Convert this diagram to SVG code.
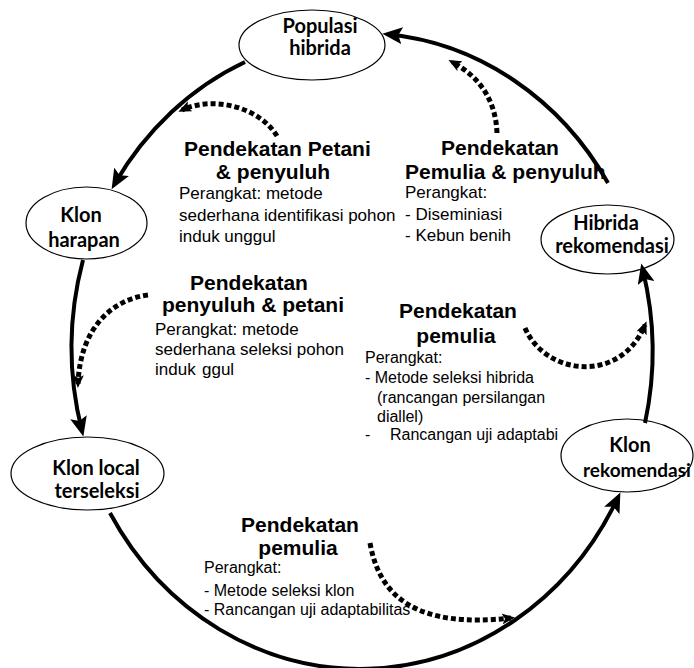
<svg xmlns="http://www.w3.org/2000/svg" width="694" height="668" viewBox="0 0 694 668">
<style>
.node ellipse{fill:#fff;stroke:#000;stroke-width:1.2}
.nt{font-family:Lato,"Open Sans","Liberation Sans",sans-serif;font-weight:bold;font-size:20px;fill:#000;text-anchor:middle}
.ttl{font-family:"Liberation Sans",Arial,sans-serif;font-weight:bold;font-size:21px;fill:#000}
.mid{text-anchor:middle}
.b17{font-family:"Liberation Sans",Arial,sans-serif;font-size:17px;fill:#000}
.b16{font-family:"Liberation Sans",Arial,sans-serif;font-size:16px;fill:#000}
.main{fill:none;stroke:#000;stroke-width:4;marker-end:url(#ah)}
.dot{fill:none;stroke:#000;stroke-width:5;stroke-dasharray:5 3;marker-end:url(#dh)}
</style>
<defs>
<marker id="ah" viewBox="0 0 20 17" markerWidth="20" markerHeight="17" refX="14" refY="8.5" orient="auto" markerUnits="userSpaceOnUse">
<path d="M0,0 L20,8.5 L0,17 L4,8.5 z" fill="#000"/>
</marker>
<marker id="dh" viewBox="0 0 13 11" markerWidth="13" markerHeight="11" refX="9" refY="5.5" orient="auto" markerUnits="userSpaceOnUse">
<path d="M0,0 L13,5.5 L0,11 L3,5.5 z" fill="#000"/>
</marker>
</defs>

<g id="populasi-hibrida" class="node">
<ellipse cx="312" cy="45" rx="73" ry="35"/>
<text class="nt" x="320" y="33">Populasi</text>
<text class="nt" x="320" y="55">hibrida</text>
</g>
<g id="klon-harapan" class="node">
<ellipse cx="86.5" cy="223" rx="60.5" ry="36"/>
<text class="nt" x="81" y="222">Klon</text>
<text class="nt" x="84" y="247">harapan</text>
</g>
<g id="hibrida-rekomendasi" class="node">
<ellipse cx="607.5" cy="239.5" rx="66.5" ry="34.5"/>
<text class="nt" x="606" y="230">Hibrida</text>
<text class="nt" x="612" y="253">rekomendasi</text>
</g>
<g id="klon-local-terseleksi" class="node">
<ellipse cx="87.5" cy="473.5" rx="76.5" ry="36.5"/>
<text class="nt" x="96" y="475">Klon local</text>
<text class="nt" x="97" y="498">terseleksi</text>
</g>
<g id="klon-rekomendasi" class="node">
<ellipse cx="627" cy="455.5" rx="66" ry="36.5"/>
<text class="nt" x="630" y="452">Klon</text>
<text class="nt" x="637" y="477" style="font-size:19px">rekomendasi</text>
</g>

<g id="label-petani-penyuluh">
<text class="ttl" x="184" y="156">Pendekatan Petani</text>
<text class="ttl mid" x="273" y="179">&amp; penyuluh</text>
<text class="b17" x="179" y="199">Perangkat: metode</text>
<text class="b17" x="179" y="221">sederhana identifikasi pohon</text>
<text class="b17" x="179" y="242">induk unggul</text>
</g>
<g id="label-pemulia-penyuluh">
<text class="ttl mid" x="500" y="155">Pendekatan</text>
<text class="ttl" x="405" y="179">Pemulia &amp; penyuluh</text>
<text class="b17" x="405" y="198">Perangkat:</text>
<text class="b17" x="405" y="220">- Diseminiasi</text>
<text class="b17" x="405" y="241">- Kebun benih</text>
</g>
<g id="label-penyuluh-petani">
<text class="ttl mid" x="249" y="290">Pendekatan</text>
<text class="ttl mid" x="253" y="312">penyuluh &amp; petani</text>
<text class="b17" x="155" y="335">Perangkat: metode</text>
<text class="b17" x="155" y="355">sederhana seleksi pohon</text>
<text class="b17" x="155" y="375">induk</text>
<text class="b17" x="202" y="375">ggul</text>
</g>
<g id="label-pemulia-hibrida">
<text class="ttl mid" x="458" y="318">Pendekatan</text>
<text class="ttl mid" x="456" y="343">pemulia</text>
<text class="b16" x="365" y="363">Perangkat:</text>
<text class="b16" x="365" y="383">- Metode seleksi hibrida</text>
<text class="b16" x="377" y="403">(rancangan persilangan</text>
<text class="b16" x="377" y="422">diallel)</text>
<text class="b16" x="365" y="440">-</text>
<text class="b16" x="390" y="440">Rancangan uji adaptabi</text>
</g>
<g id="label-pemulia-klon">
<text class="ttl mid" x="300" y="532">Pendekatan</text>
<text class="ttl mid" x="298" y="555">pemulia</text>
<text class="b16" x="204" y="573">Perangkat:</text>
<text class="b16" x="204" y="596">- Metode seleksi klon</text>
<text class="b16" x="204" y="615">- Rancangan uji adaptabilitas</text>
</g>

<g id="connectors">
<path class="main" d="M608,183 A290,316 0 0 0 388.3,34.3"/>
<path class="main" d="M245,62 A290,316 0 0 0 114.6,184"/>
<path class="main" d="M83,260 A290,316 0 0 0 81.9,430.8"/>
<path class="main" d="M110,513 A290,316 0 0 0 617.8,497.8"/>
<path class="main" d="M645,423 A290,316 0 0 0 642.7,269.4"/>
<path class="dot" d="M497,133 Q495,85 452,62"/>
<path class="dot" d="M277,136 C260,108 215,95 182,110"/>
<path class="dot" d="M148,295 C110,300 80,330 78,384"/>
<path class="dot" d="M525,328 C545,375 620,385 645,325"/>
<path class="dot" d="M370,543 C380,600 420,628 511,618"/>
</g>
</svg>
